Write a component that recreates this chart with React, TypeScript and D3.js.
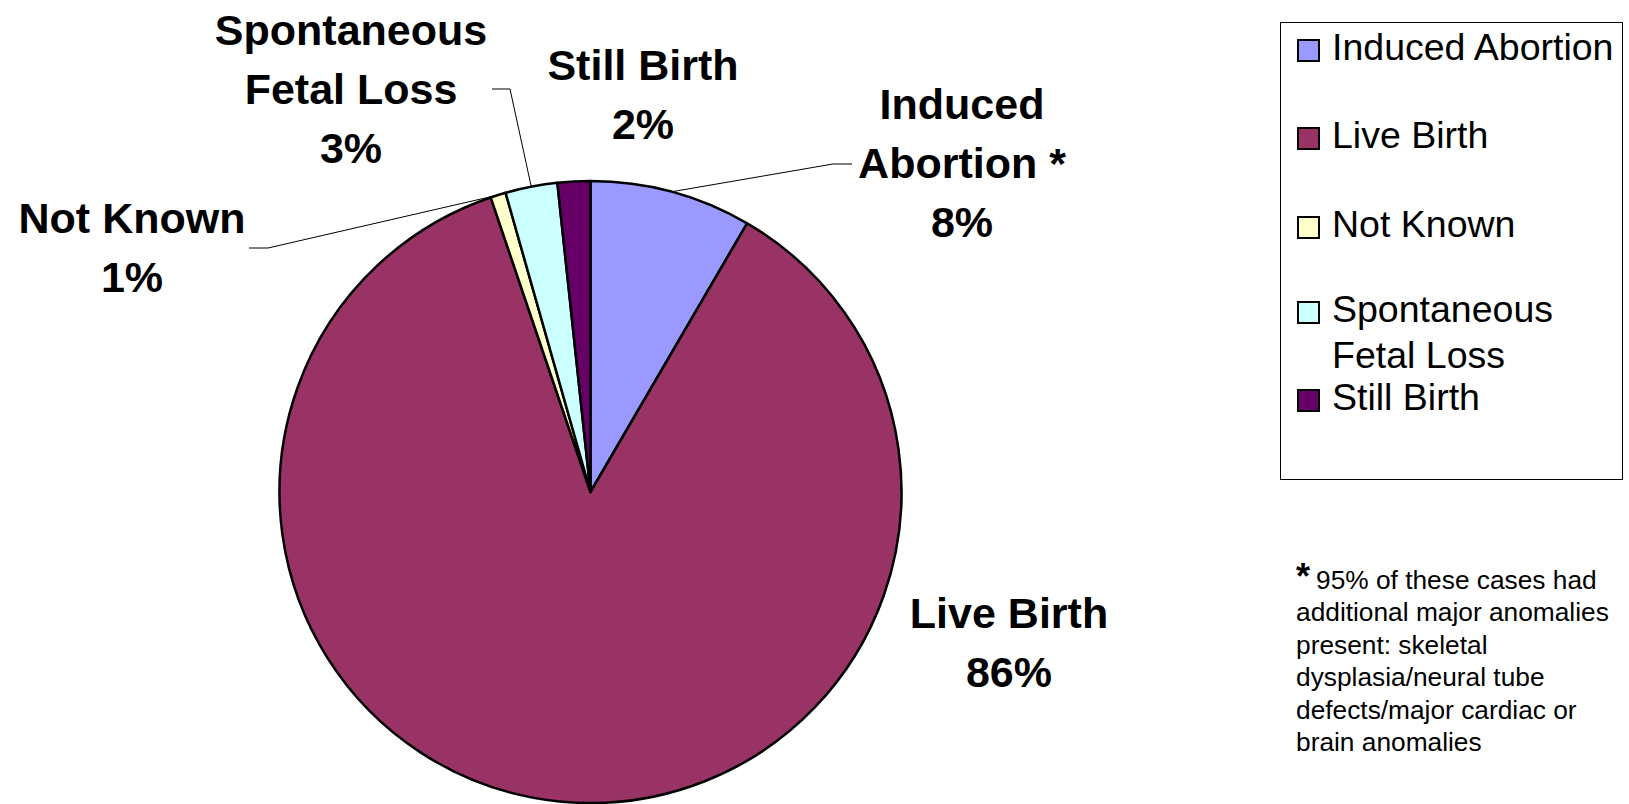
import React, { useRef, useEffect } from "react";
import * as d3 from "d3";

// outcome categories, in the order the slices run clockwise from 12 o'clock
const categories = [
  "Induced Abortion",
  "Live Birth",
  "Not Known",
  "Spontaneous Fetal Loss",
  "Still Birth",
];
// share of cases (percent)
const values = [8.4, 86.4, 0.8, 2.7, 1.7];
const colors = ["#9999FF", "#993366", "#FFFFCC", "#CCFFFF", "#660066"];

// data label text lines (the percentage is added below)
const labelLines = [
  ["Induced", "Abortion *"],
  ["Live Birth"],
  ["Not Known"],
  ["Spontaneous", "Fetal Loss"],
  ["Still Birth"],
];
// legend text lines
const legendLines = [
  ["Induced Abortion"],
  ["Live Birth"],
  ["Not Known"],
  ["Spontaneous", "Fetal Loss"],
  ["Still Birth"],
];
const footnote = [
  "95% of these cases had",
  "additional major anomalies",
  "present: skeletal",
  "dysplasia/neural tube",
  "defects/major cardiac or",
  "brain anomalies",
];

const W = 1629;
const H = 804;
const cx = 590.5;
const cy = 492;
const R = 311;

// label anchor (centre x, first baseline) and leader knee, per category
const labelPos: { x: number; y: number; knee?: [number, number][] }[] = [
  { x: 962, y: 119, knee: [[833, 164], [852, 164]] },
  { x: 1009, y: 628 },
  { x: 132, y: 233, knee: [[268, 248], [249, 248]] },
  { x: 351, y: 45, knee: [[510, 89], [492, 89]] },
  { x: 643, y: 80 },
];

const App: React.FC = () => {
  const svgRef = useRef<SVGSVGElement>(null);

  useEffect(() => {
    document.body.style.margin = "0";
    if (!svgRef.current) return;
    const svg = d3.select(svgRef.current);
    svg.selectAll("*").remove();

    const data = categories.map((c, i) => ({ name: c, value: values[i], i }));
    const total = d3.sum(values);
    const pct = d3.format(".0%");

    const pie = d3
      .pie<{ name: string; value: number; i: number }>()
      .sort(null)
      .value((d) => d.value);
    const arcs = pie(data);
    const arc = d3.arc<any>().innerRadius(0).outerRadius(R);
    const edge = d3.arc<any>().innerRadius(R).outerRadius(R);

    const g = svg.append("g").attr("transform", `translate(${cx},${cy})`);
    g.selectAll("path")
      .data(arcs)
      .join("path")
      .attr("d", arc)
      .attr("fill", (d) => colors[d.data.i])
      .attr("stroke", "#000")
      .attr("stroke-width", 2.5)
      .attr("stroke-linejoin", "round");

    // leader lines
    arcs.forEach((a) => {
      const lp = labelPos[a.data.i];
      if (!lp.knee) return;
      const [ex, ey] = edge.centroid(a);
      const pts: [number, number][] = [[ex + cx, ey + cy], ...lp.knee];
      svg
        .append("path")
        .attr("d", d3.line()(pts))
        .attr("fill", "none")
        .attr("stroke", "#000")
        .attr("stroke-width", 1);
    });

    // data labels
    arcs.forEach((a) => {
      const lp = labelPos[a.data.i];
      const lines = [...labelLines[a.data.i], pct(a.data.value / total)];
      const t = svg
        .append("text")
        .attr("text-anchor", "middle")
        .attr("font-family", "'Liberation Sans', Arial, sans-serif")
        .attr("font-weight", "bold")
        .attr("font-size", 43)
        .attr("fill", "#000");
      lines.forEach((l, k) => {
        t.append("tspan")
          .attr("x", lp.x)
          .attr("y", lp.y + k * 59)
          .text(l);
      });
    });

    // legend
    const lg = svg.append("g");
    lg.append("rect")
      .attr("x", 1280.5)
      .attr("y", 22.5)
      .attr("width", 342)
      .attr("height", 457)
      .attr("fill", "#fff")
      .attr("stroke", "#000")
      .attr("stroke-width", 1);
    const rowY = [60, 148, 237, 322, 410];
    legendLines.forEach((lines, i) => {
      lg.append("rect")
        .attr("x", 1298)
        .attr("y", rowY[i] - 20)
        .attr("width", 21)
        .attr("height", 21)
        .attr("fill", colors[i])
        .attr("stroke", "#000")
        .attr("stroke-width", 2);
      const t = lg
        .append("text")
        .attr("font-family", "'Liberation Sans', Arial, sans-serif")
        .attr("font-size", 37.5)
        .attr("fill", "#000");
      lines.forEach((l, k) => {
        t.append("tspan")
          .attr("x", 1332)
          .attr("y", rowY[i] + k * 46)
          .text(l);
      });
    });

    // footnote
    const fy = 589;
    const fn = svg
      .append("text")
      .attr("font-family", "'Liberation Sans', Arial, sans-serif")
      .attr("font-size", 26.3)
      .attr("fill", "#000");
    footnote.forEach((l, k) => {
      fn.append("tspan")
        .attr("x", k === 0 ? 1316 : 1296)
        .attr("y", fy + k * 32.4)
        .text(l);
    });
    svg
      .append("text")
      .attr("x", 1296)
      .attr("y", fy)
      .attr("font-family", "'Liberation Sans', Arial, sans-serif")
      .attr("font-weight", "bold")
      .attr("font-size", 36)
      .attr("fill", "#000")
      .text("*");
  }, []);

  return (
    <svg
      ref={svgRef}
      width={W}
      height={H}
      style={{ display: "block", background: "#fff" }}
    ></svg>
  );
};

export default App;
